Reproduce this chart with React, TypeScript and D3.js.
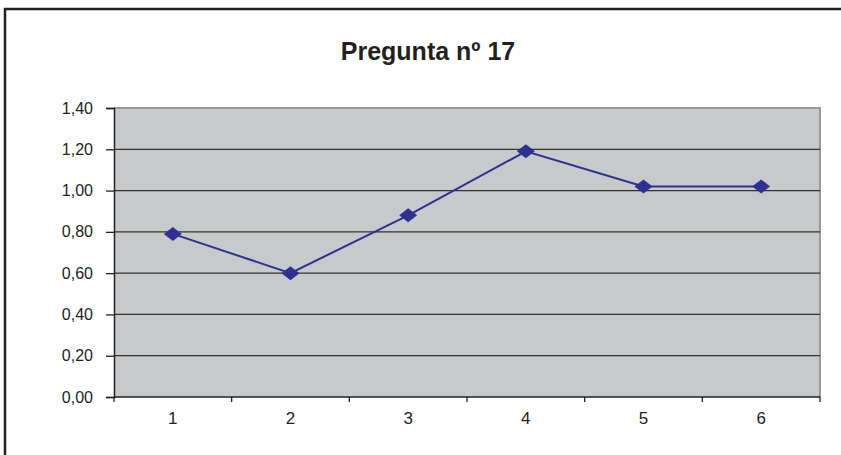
import React, { useEffect, useRef } from 'react';
import * as d3 from 'd3';

const categories = ['1', '2', '3', '4', '5', '6'];
const values = [0.79, 0.6, 0.88, 1.19, 1.02, 1.02];
const yTicks = [0, 0.2, 0.4, 0.6, 0.8, 1.0, 1.2, 1.4];
const title = 'Pregunta nº 17';

const svgWidth = 841;
const svgHeight = 455;

const App: React.FC = () => {
  const svgRef = useRef<SVGSVGElement | null>(null);

  useEffect(() => {
    const margin = { top: 108, right: 21, bottom: 58, left: 114 };
    const width = svgWidth - margin.left - margin.right;
    const height = svgHeight - margin.top - margin.bottom;
    const font = '"Liberation Sans", Arial, sans-serif';

    const svg = d3.select(svgRef.current);
    svg.selectAll('*').remove();

    // outer frame (cut off at right and bottom)
    svg
      .append('path')
      .attr('d', `M5,${svgHeight + 2} V9 H${svgWidth + 2}`)
      .attr('fill', 'none')
      .attr('stroke', '#222')
      .attr('stroke-width', 2.5);

    // title
    svg
      .append('text')
      .attr('x', 428)
      .attr('y', 60)
      .attr('text-anchor', 'middle')
      .attr('font-family', font)
      .attr('font-weight', 'bold')
      .attr('font-size', 25)
      .attr('fill', '#231f20')
      .text(title);

    const xScale = d3.scaleBand<string>().domain(categories).range([0, width]);
    const yScale = d3.scaleLinear().domain([0, 1.4]).range([height, 0]);

    const g = svg
      .append('g')
      .attr('transform', `translate(${margin.left},${margin.top})`);

    // plot background
    g.append('rect')
      .attr('width', width)
      .attr('height', height)
      .attr('fill', '#c8c9cb');

    // top and right gray border
    g.append('path')
      .attr('d', `M0,0 H${width} V${height}`)
      .attr('fill', 'none')
      .attr('stroke', '#9a9a9a')
      .attr('stroke-width', 2);

    // gridlines
    g.selectAll('.grid')
      .data(yTicks.filter((d) => d > 0 && d < 1.4))
      .enter()
      .append('line')
      .attr('class', 'grid')
      .attr('x1', 0)
      .attr('x2', width)
      .attr('y1', (d) => yScale(d))
      .attr('y2', (d) => yScale(d))
      .attr('stroke', '#333')
      .attr('stroke-width', 1.3);

    // Y轴
    const yAxis = g
      .append('g')
      .call(
        d3
          .axisLeft(yScale)
          .tickValues(yTicks)
          .tickSize(8)
          .tickPadding(13)
          .tickFormat((d) => d3.format('.2f')(d as number).replace('.', ','))
      );
    yAxis.attr('font-size', 16).attr('font-family', font);
    yAxis.select('.domain').attr('stroke', '#231f20').attr('stroke-width', 1.5);
    yAxis.selectAll('.tick line').attr('stroke', '#231f20').attr('stroke-width', 1.3);
    yAxis.selectAll('text').attr('fill', '#231f20');

    // X轴
    const xAxis = g
      .append('g')
      .attr('transform', `translate(0,${height})`)
      .call(d3.axisBottom(xScale).tickSize(0).tickPadding(15));
    xAxis.attr('font-size', 17).attr('font-family', font);
    xAxis.select('.domain').remove();
    xAxis.selectAll('text').attr('fill', '#231f20');
    xAxis
      .append('line')
      .attr('x1', 0)
      .attr('x2', width)
      .attr('stroke', '#231f20')
      .attr('stroke-width', 1.5);
    xAxis
      .selectAll('.xtick')
      .data(d3.range(categories.length + 1))
      .enter()
      .append('line')
      .attr('class', 'xtick')
      .attr('x1', (i) => xScale.step() * i)
      .attr('x2', (i) => xScale.step() * i)
      .attr('y1', 0)
      .attr('y2', 5)
      .attr('stroke', '#231f20')
      .attr('stroke-width', 1.3);

    const cx = (i: number) => (xScale(categories[i]) as number) + xScale.bandwidth() / 2;

    // 折线
    const line = d3
      .line<number>()
      .x((_, i) => cx(i))
      .y((d) => yScale(d));

    g.append('path')
      .datum(values)
      .attr('d', line)
      .attr('fill', 'none')
      .attr('stroke', '#2e3192')
      .attr('stroke-width', 2);

    // diamond markers
    const hw = 9;
    const hh = 7;
    g.selectAll('.marker')
      .data(values)
      .enter()
      .append('path')
      .attr('class', 'marker')
      .attr('transform', (d, i) => `translate(${cx(i)},${yScale(d)})`)
      .attr('d', `M${-hw},0 L0,${-hh} L${hw},0 L0,${hh} Z`)
      .attr('fill', '#2e3192');
  }, []);

  return (
    <svg
      ref={svgRef}
      width={svgWidth}
      height={svgHeight}
      style={{ position: 'absolute', left: 0, top: 0, background: '#fff' }}
    />
  );
};

export default App;
